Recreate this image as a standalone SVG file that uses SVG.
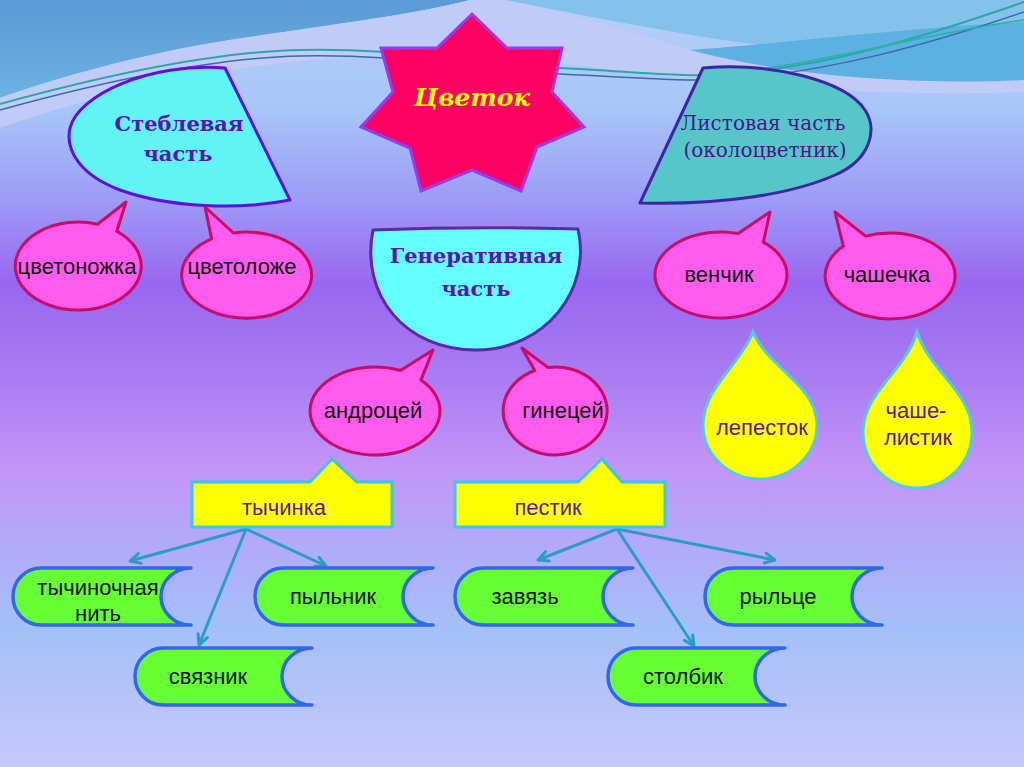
<svg xmlns="http://www.w3.org/2000/svg" width="1024" height="767" viewBox="0 0 1024 767">
<defs>
<linearGradient id="bg" x1="0" y1="0" x2="0" y2="1">
<stop offset="0" stop-color="#b6cdf8"/>
<stop offset="0.14" stop-color="#a8c6f8"/>
<stop offset="0.26" stop-color="#9c9cf6"/>
<stop offset="0.37" stop-color="#9966f0"/>
<stop offset="0.5" stop-color="#aa7ef2"/>
<stop offset="0.61" stop-color="#c494f8"/>
<stop offset="0.71" stop-color="#b2aaf8"/>
<stop offset="0.82" stop-color="#a4c0f8"/>
<stop offset="1" stop-color="#c6c8fc"/>
</linearGradient>
<linearGradient id="blueL" x1="0" y1="0" x2="0" y2="1">
<stop offset="0" stop-color="#5b9ad6"/>
<stop offset="1" stop-color="#6cb2e2"/>
</linearGradient>
<marker id="arr" markerUnits="userSpaceOnUse" markerWidth="14" markerHeight="14" viewBox="0 0 14 14" refX="12" refY="7" orient="auto">
<path d="M2,2 L12,7 L2,12" fill="none" stroke="#2a9ccc" stroke-width="3" stroke-linecap="round" stroke-linejoin="round"/>
</marker>
<style>
.bub{fill:#ff5cee;stroke:#cc0a6a;stroke-width:3;stroke-linejoin:round}
.scroll{fill:#66ff33;stroke:#3366ee;stroke-width:3.5;stroke-linejoin:round}
.yel{fill:#ffff00;stroke:#38c8ee;stroke-width:3;stroke-linejoin:miter}
.drop{fill:#ffff00;stroke:#55c8ee;stroke-width:3}
.sans{font-family:"Liberation Sans",Arial,sans-serif;font-size:22px;text-anchor:middle}
.blk{fill:#111111}
.pur{fill:#5b1a8c}
.serb{font-family:"DejaVu Serif","Liberation Serif",serif;font-weight:bold;text-anchor:middle;fill:#5a14b4}
.ser{font-family:"DejaVu Serif","Liberation Serif",serif;text-anchor:middle;fill:#45188e}
.conn{stroke:#2a9ccc;stroke-width:3;fill:none;marker-end:url(#arr)}
</style>
</defs>

<g id="background">
<rect x="0" y="0" width="1024" height="767" fill="url(#bg)"/>
<path d="M0,0 H470 C400,18 300,28 200,45 C120,60 50,80 0,98 Z" fill="url(#blueL)"/>
<path d="M0,98 C50,80 120,60 200,45 C300,28 400,18 470,0 H505 C580,15 640,35 690,50 C760,66 830,76 900,80 C950,82 990,80 1024,80 V92 C900,96 800,90 700,80 C600,68 500,54 400,55 C250,57 100,92 0,128 Z" fill="#c0cbf8"/>
<path d="M505,0 H1024 V25 C930,30 840,38 760,45 C680,35 580,15 505,0 Z" fill="#84c2ec"/>
<path d="M690,50 C760,46 900,28 1024,22 V80 C950,84 860,80 790,70 C750,64 715,57 690,50 Z" fill="#5cb0e2"/>
<path d="M0,104 C80,82 200,52 300,50 C400,48 460,62 560,68 C640,72 690,78 730,74 C830,66 920,38 1024,2" fill="none" stroke="#2aa8a8" stroke-width="2"/>
<path d="M0,110 C80,88 200,58 300,56 C400,54 460,68 560,74 C640,78 690,82 730,79 C830,72 930,44 1024,12" fill="none" stroke="#3a6aa8" stroke-width="1.5"/>
<path d="M700,76 C820,66 920,34 1024,20" fill="none" stroke="#28b4a0" stroke-width="1.5"/>
</g>

<g id="connectors">
<line class="conn" x1="246" y1="529" x2="130" y2="561"/>
<line class="conn" x1="246" y1="529" x2="199" y2="645"/>
<line class="conn" x1="246" y1="529" x2="326" y2="566"/>
<line class="conn" x1="617" y1="529" x2="538" y2="560"/>
<line class="conn" x1="617" y1="529" x2="694" y2="646"/>
<line class="conn" x1="617" y1="529" x2="775" y2="560"/>
</g>

<g id="node-cvetok">
<polygon points="472,14 507,48 562,48 552,92 584,127 537,147 521,191 472,170 421,191 410,148 361,127 393,92 381,48 437,48" fill="#ff0062" stroke="#9a3af0" stroke-width="3" stroke-linejoin="miter"/>
<text x="472" y="106" font-family="'DejaVu Serif','Liberation Serif',serif" font-weight="bold" font-style="italic" font-size="25" fill="#ffff00" text-anchor="middle">Цветок</text>
</g>

<g id="node-stebl">
<path d="M225,68 L290,200 C240,210 170,208 120,190 C80,175 65,150 70,128 C78,95 150,62 225,68 Z" fill="#60f4f4" stroke="#6010d8" stroke-width="3" stroke-linejoin="round"/>
<text class="serb" x="179" y="131" font-size="21">Стеблевая</text>
<text class="serb" x="178" y="161" font-size="21">часть</text>
</g>

<g id="node-list">
<path d="M703,68 L640,203 C720,205 790,195 835,175 C870,160 878,130 865,110 C845,80 770,62 703,68 Z" fill="#56c6c8" stroke="#4024a8" stroke-width="3" stroke-linejoin="round"/>
<text class="ser" x="763" y="130" font-size="20">Листовая часть</text>
<text class="ser" x="765" y="157" font-size="20">(околоцветник)</text>
</g>

<g id="node-gener">
<path d="M373,230 Q476,226 578,229 C592,290 545,350 476,350 C405,350 360,295 373,230 Z" fill="#66ffff" stroke="#5a28a8" stroke-width="3" stroke-linejoin="round"/>
<text class="serb" x="476" y="263" font-size="21">Генеративная</text>
<text class="serb" x="476" y="296" font-size="21">часть</text>
</g>

<g id="node-cvetonozhka">
<path class="bub" d="M116.8,231.3 A63 44 0 1 1 97.5,224.2 L126,202 Z"/>
<text class="sans blk" x="77" y="274">цветоножка</text>
</g>

<g id="node-cvetolozhe">
<path class="bub" d="M233.5,233 A65 43 0 1 1 211.6,238.9 L205,207 Z"/>
<text class="sans blk" x="242" y="274">цветоложе</text>
</g>

<g id="node-venchik">
<path class="bub" d="M763.4,242.1 A66 43 0 1 1 738.1,233.5 L770,212 Z"/>
<text class="sans blk" x="719" y="282">венчик</text>
</g>

<g id="node-chashechka">
<path class="bub" d="M865.6,236.1 A65 43 0 1 1 843.3,246.1 L835,212 Z"/>
<text class="sans blk" x="887" y="282">чашечка</text>
</g>

<g id="node-androcei">
<path class="bub" d="M421,379.9 A65 44 0 1 1 400.4,370.5 L433,350 Z"/>
<text class="sans blk" x="373" y="418">андроцей</text>
</g>

<g id="node-ginecei">
<path class="bub" d="M547.8,367.4 A52 44 0 1 1 534.7,370.5 L522,348 Z"/>
<text class="sans blk" x="563" y="418">гинецей</text>
</g>

<g id="node-lepestok">
<path class="drop" d="M753,332 C768,368 817,385 817,425 C817,455 791,479 760,479 C729,479 703,455 703,425 C703,388 740,365 753,332 Z"/>
<text class="sans pur" x="762" y="435">лепесток</text>
</g>

<g id="node-chashelistik">
<path class="drop" d="M917,332 C930,372 972,392 972,432 C972,463 947,488 917,488 C887,488 863,463 863,432 C863,392 905,372 917,332 Z"/>
<text class="sans pur" x="916" y="418">чаше-</text>
<text class="sans pur" x="918" y="445">листик</text>
</g>

<g id="node-tychinka">
<path class="yel" d="M192,482 H310 L332,459 L357,482 H392 V527 H192 Z"/>
<text class="sans pur" x="284" y="515" font-size="21">тычинка</text>
</g>

<g id="node-pestik">
<path class="yel" d="M455,482 H578 L602,459 L622,482 H665 V527 H455 Z"/>
<text class="sans pur" x="548" y="515" font-size="21">пестик</text>
</g>

<g id="node-tychinochnaya">
<path class="scroll" d="M41,568 H191 A30 28.5 0 0 0 191,625 H41 A28 28.5 0 0 1 41,568 Z"/>
<text class="sans blk" x="98" y="595">тычиночная</text>
<text class="sans blk" x="98" y="621">нить</text>
</g>

<g id="node-pylnik">
<path class="scroll" d="M283,568 H433 A30 28.5 0 0 0 433,625 H283 A28 28.5 0 0 1 283,568 Z"/>
<text class="sans blk" x="333" y="604">пыльник</text>
</g>

<g id="node-sviaznik">
<path class="scroll" d="M163,648 H312 A30 28.5 0 0 0 312,705 H163 A28 28.5 0 0 1 163,648 Z"/>
<text class="sans blk" x="208" y="684">связник</text>
</g>

<g id="node-zaviaz">
<path class="scroll" d="M483,568 H633 A30 28.5 0 0 0 633,625 H483 A28 28.5 0 0 1 483,568 Z"/>
<text class="sans blk" x="525" y="604">завязь</text>
</g>

<g id="node-rylce">
<path class="scroll" d="M733,568 H882 A30 28.5 0 0 0 882,625 H733 A28 28.5 0 0 1 733,568 Z"/>
<text class="sans blk" x="778" y="604">рыльце</text>
</g>

<g id="node-stolbik">
<path class="scroll" d="M636,648 H785 A30 28.5 0 0 0 785,705 H636 A28 28.5 0 0 1 636,648 Z"/>
<text class="sans blk" x="683" y="684">столбик</text>
</g>
</svg>
